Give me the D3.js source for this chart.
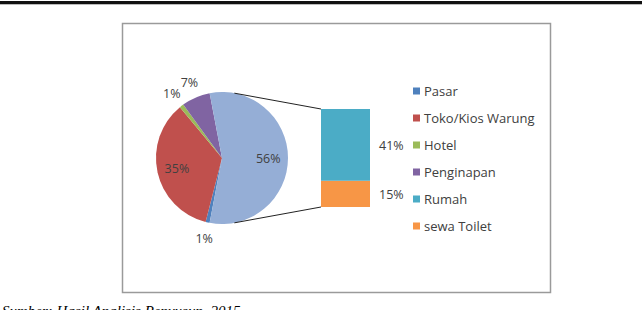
<!DOCTYPE html>
<html>
<head>
<meta charset="utf-8">
<script src="https://cdn.jsdelivr.net/npm/d3@7"></script>
<style>
  body { margin: 0; background: #fff; }
  svg { display: block; }
</style>
</head>
<body>
<svg id="chart" width="642" height="310"></svg>
<script>
// data
const categories = ["Pasar", "Toko/Kios Warung", "Hotel", "Penginapan", "Rumah", "sewa Toilet"];
const values = [1, 35, 1, 7, 41, 15];
const colors = ["#4F81BD", "#C0504D", "#9BBB59", "#8064A2", "#4BACC6", "#F79646"];
const secondCount = 2; // last two go to the stacked bar
const otherColor = "#95AED6";
const caption = "Sumber: Hasil Analisis Penyusun, 2015";

const W = 642, H = 310;
const svg = d3.select("#chart");
const textColor = "#404040";
const font = "'Open Sans', sans-serif";

svg.append("rect").attr("width", W).attr("height", H).attr("fill", "#fff");

// heavy rule at the top of the page
svg.append("rect").attr("x", 0).attr("y", 1).attr("width", W).attr("height", 3).attr("fill", "#111");
svg.append("rect").attr("x", 0).attr("y", 4).attr("width", W).attr("height", 1).attr("fill", "#bbb");

// chart frame
svg.append("rect")
  .attr("x", 122.5).attr("y", 23.5)
  .attr("width", 428).attr("height", 269)
  .attr("fill", "none")
  .attr("stroke", "#9a9a9a")
  .attr("stroke-width", 1.5);

// pie data: first slices + combined "other"
const nFirst = categories.length - secondCount;
const otherTotal = d3.sum(values.slice(nFirst));
const pieData = categories.slice(0, nFirst).map((c, i) => ({ name: c, value: values[i], color: colors[i] }));
pieData.push({ name: "other", value: otherTotal, color: otherColor });

const total = d3.sum(values);
const otherSpan = 2 * Math.PI * otherTotal / total;
const start = Math.PI / 2 + otherSpan / 2;

const cx = 222, cy = 158, r = 66;

const pie = d3.pie()
  .sort(null)
  .value(d => d.value)
  .startAngle(start)
  .endAngle(start + 2 * Math.PI);

const arcs = pie(pieData);
const arc = d3.arc().innerRadius(0).outerRadius(r);

const pieG = svg.append("g").attr("transform", `translate(${cx},${cy})`);

pieG.selectAll("path")
  .data(arcs)
  .join("path")
  .attr("d", arc)
  .attr("fill", d => d.data.color);

const inArc = d3.arc().innerRadius(r * 0.7).outerRadius(r * 0.7);
const outArc = d3.arc().innerRadius(r + 16).outerRadius(r + 16);

pieG.selectAll("text")
  .data(arcs)
  .join("text")
  .attr("transform", d => `translate(${(d.data.value >= 10 ? inArc : outArc).centroid(d)})`)
  .attr("text-anchor", "middle")
  .attr("dominant-baseline", "central")
  .attr("font-family", font)
  .attr("font-size", 12.5)
  .attr("fill", textColor)
  .text(d => d.data.value + "%");

// stacked bar of the "other" slice
const barX = 321, barW = 49;
const y = d3.scaleLinear().domain([0, otherTotal]).range([207, 109]);

const secNames = categories.slice(nFirst).reverse();
const secVals = values.slice(nFirst).reverse();
const secCols = colors.slice(nFirst).reverse();
let acc = 0;
const stack = secNames.map((n, i) => {
  const s = { name: n, y0: acc, y1: acc + secVals[i], value: secVals[i], color: secCols[i] };
  acc += secVals[i];
  return s;
});

const barG = svg.append("g");
barG.selectAll("rect")
  .data(stack)
  .join("rect")
  .attr("x", barX)
  .attr("width", barW)
  .attr("y", d => y(d.y1))
  .attr("height", d => y(d.y0) - y(d.y1))
  .attr("fill", d => d.color);

barG.selectAll("text")
  .data(stack)
  .join("text")
  .attr("x", barX + barW + 9)
  .attr("y", d => (y(d.y0) + y(d.y1)) / 2 + 1)
  .attr("dominant-baseline", "central")
  .attr("font-family", font)
  .attr("font-size", 12.5)
  .attr("fill", textColor)
  .text(d => d.value + "%");

// connector lines
const otherArc = arcs[arcs.length - 1];
const inset = Math.PI * 2 * 0.06;
const a1 = otherArc.startAngle + inset;
const a2 = otherArc.endAngle - inset;
const lines = [
  [[cx + r * Math.sin(a1), cy - r * Math.cos(a1)], [barX, y(otherTotal)]],
  [[cx + r * Math.sin(a2), cy - r * Math.cos(a2)], [barX, y(0)]]
];
svg.selectAll("line.conn")
  .data(lines)
  .join("line")
  .attr("class", "conn")
  .attr("x1", d => d[0][0]).attr("y1", d => d[0][1])
  .attr("x2", d => d[1][0]).attr("y2", d => d[1][1])
  .attr("stroke", "#222")
  .attr("stroke-width", 1);

// legend
const legendY = d3.scalePoint().domain(categories).range([91, 226]);
const legend = svg.append("g");
const rows = legend.selectAll("g")
  .data(categories)
  .join("g")
  .attr("transform", d => `translate(413,${legendY(d)})`);
rows.append("rect")
  .attr("x", 0).attr("y", -3.5)
  .attr("width", 7).attr("height", 7)
  .attr("fill", (d, i) => colors[i]);
rows.append("text")
  .attr("x", 11)
  .attr("y", 0)
  .attr("dominant-baseline", "central")
  .attr("font-family", font)
  .attr("font-size", 13)
  .attr("fill", textColor)
  .text(d => d);

// source caption (cut off at the bottom)
svg.append("text")
  .attr("x", 2)
  .attr("y", 316)
  .attr("font-family", "'Liberation Serif', serif")
  .attr("font-style", "italic")
  .attr("font-size", 15)
  .attr("fill", "#000")
  .text(caption);
</script>
</body>
</html>
